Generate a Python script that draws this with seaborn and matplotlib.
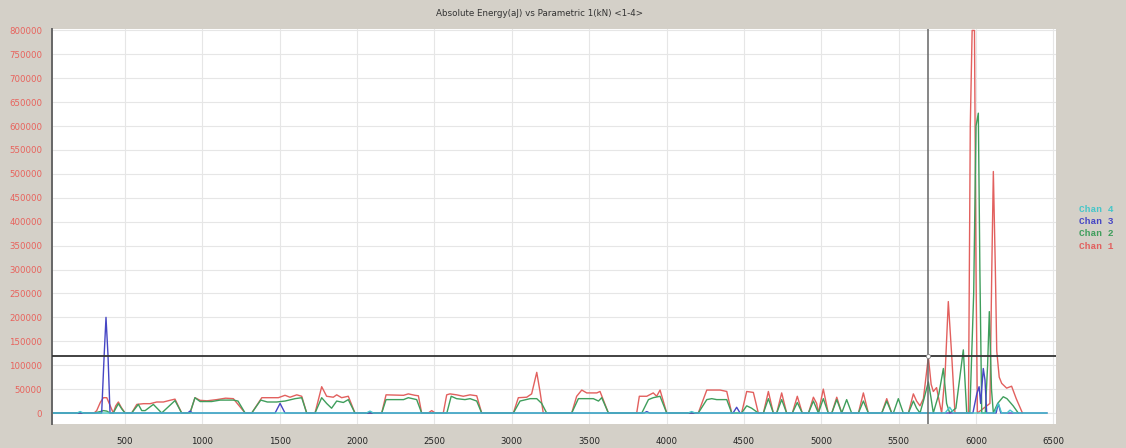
import numpy as np
import pandas as pd
import matplotlib
matplotlib.use("Agg")
import matplotlib.pyplot as plt
import seaborn as sns

# Absolute energy (aJ) against parametric load (kN), four AE channels
chan1_x = [35, 300, 317, 340, 360, 382, 395, 410, 424, 440, 457, 475, 500,
           543, 576, 620, 662, 705, 748, 790, 823, 866,
           920, 952, 985, 1030, 1093, 1150, 1200, 1276,
           1319, 1384, 1491, 1534, 1566, 1610, 1642, 1674,
           1728, 1771, 1803, 1846, 1868, 1900, 1943, 1986,
           2159, 2187, 2300, 2331, 2374, 2396, 2417,
           2460, 2482, 2505,
           2557, 2579, 2600, 2643, 2686, 2730, 2773, 2805,
           3010, 3042, 3096, 3128, 3161, 3182, 3203,
           3387, 3419, 3452, 3484, 3549, 3570, 3624,
           3807, 3824, 3872, 3914, 3936, 3958, 4001,
           4205, 4260, 4346, 4389, 4421,
           4485, 4518, 4561, 4593,
           4626, 4658, 4690, 4712, 4744, 4776, 4813, 4845, 4877,
           4917, 4949, 4970, 4981, 5013, 5045, 5068, 5100, 5132,
           5240, 5272, 5304, 5391, 5423, 5455,
           5563, 5595, 5616, 5638, 5660, 5692, 5710, 5724, 5745, 5765, 5778,
           5800, 5821, 5843, 5864, 5951, 5963, 5975, 5990, 6000, 6009,
           6090, 6102, 6112, 6125, 6134, 6150, 6166, 6198, 6230, 6260, 6300]
chan1_y = [0, 0, 5000, 22000, 32000, 32000, 22000, 10000, 0, 15000, 23000, 12000, 0,
           0, 18000, 19500, 19500, 23000, 23000, 26500, 29000, 0,
           0, 32000, 26500, 25500, 28000, 31000, 30000, 0,
           0, 32000, 32000, 37000, 33000, 38000, 35000, 0,
           0, 55000, 35000, 33000, 38000, 32000, 35000, 0,
           0, 38000, 37000, 40000, 37000, 36000, 0,
           0, 5000, 0,
           0, 38000, 40000, 38000, 35000, 38000, 36000, 0,
           0, 32000, 33000, 40000, 85000, 45000, 0,
           0, 35000, 48000, 42000, 42000, 45000, 0,
           0, 35000, 35000, 42000, 35000, 48000, 0,
           0, 48000, 48000, 45000, 0,
           0, 45000, 43000, 0,
           0, 45000, 0, 0, 42000, 0, 0, 35000, 0,
           0, 33000, 20000, 0, 50000, 0, 0, 33000, 0,
           0, 42000, 0, 0, 30000, 0,
           0, 40000, 25000, 15000, 30000, 117000, 60000, 45000, 53000, 20000, 0,
           80000, 233000, 120000, 0, 0, 600000, 800000, 800000, 300000, 0,
           20000, 300000, 505000, 300000, 130000, 75000, 62000, 52000, 56000, 30000, 0]

chan2_x = [35, 300, 340, 360, 382, 403, 424, 457, 480, 500,
           543, 586, 608, 630, 683, 737, 823, 866,
           920, 952, 985, 1060, 1115, 1200, 1230, 1276,
           1319, 1377, 1420, 1480, 1534, 1599, 1642, 1674,
           1728, 1771, 1803, 1835, 1868, 1911, 1943, 1986,
           2159, 2187, 2300, 2331, 2385, 2417,
           2580, 2608, 2643, 2697, 2730, 2773, 2805,
           3010, 3053, 3118, 3161, 3193, 3225,
           3387, 3430, 3527, 3560, 3581, 3624,
           3840, 3883, 3914, 3958, 4001,
           4205, 4260, 4292, 4324, 4389, 4421,
           4485, 4518, 4550, 4593,
           4626, 4658, 4690, 4712, 4744, 4776, 4813, 4845, 4877,
           4917, 4949, 4981, 5013, 5045, 5068, 5100, 5132, 5164, 5196,
           5240, 5272, 5304, 5391, 5423, 5455, 5466, 5498, 5530,
           5563, 5595, 5616, 5638, 5660, 5692, 5710, 5724, 5760, 5789, 5810, 5830,
           5870, 5918, 5940, 5960, 5985, 6000, 6015, 6025, 6037,
           6060, 6075, 6086, 6100, 6112, 6140, 6176, 6200, 6240, 6273]
chan2_y = [0, 0, 3000, 5000, 4000, 0, 0, 19500, 8000, 0,
           0, 18000, 5000, 5000, 18000, 0, 26000, 0,
           0, 32000, 24000, 24000, 27000, 27000, 25000, 0,
           0, 27000, 23000, 23000, 25000, 30000, 32000, 0,
           0, 32000, 20000, 10000, 25000, 22000, 28000, 0,
           0, 28000, 28000, 32000, 28000, 0,
           0, 35000, 30000, 28000, 30000, 25000, 0,
           0, 25000, 30000, 30000, 20000, 0,
           0, 30000, 30000, 25000, 32000, 0,
           0, 28000, 32000, 35000, 0,
           0, 28000, 30000, 28000, 28000, 0,
           0, 15000, 10000, 0,
           0, 30000, 0, 0, 28000, 0, 0, 22000, 0,
           0, 25000, 0, 30000, 0, 0, 28000, 0, 28000, 0,
           0, 25000, 0, 0, 25000, 0, 0, 30000, 0,
           0, 25000, 10000, 0, 25000, 65000, 30000, 0, 40000, 93000, 20000, 0,
           10000, 132000, 0, 0, 250000, 600000, 627000, 300000, 0,
           0, 100000, 212000, 50000, 0, 20000, 34000, 30000, 15000, 0]

chan3_x = [35, 349, 365, 377, 390, 403, 905, 920, 935, 1470, 1502, 1534,
           3855, 3872, 3890, 4430, 4453, 4475,
           5980, 6005, 6020, 6030, 6047, 6058, 6069, 6130, 6144, 6160, 6460]
chan3_y = [0, 0, 120000, 200000, 120000, 0, 0, 4000, 0, 0, 20000, 0,
           0, 3000, 0, 0, 12000, 0,
           0, 40000, 55000, 20000, 93000, 69000, 0, 0, 20000, 0, 0]

chan4_x = [35, 190, 210, 230, 2060, 2083, 2105, 4140, 4162, 4185,
           5800, 5830, 5855, 6120, 6144, 6165, 6200, 6220, 6245, 6460]
chan4_y = [0, 0, 3000, 0, 0, 4000, 0, 0, 3000, 0,
           0, 12000, 0, 0, 20000, 0, 0, 6000, 0, 0]

channels = ["Chan 1", "Chan 2", "Chan 3", "Chan 4"]
colors = {"Chan 1": "#e2605e", "Chan 2": "#3f9e5c",
          "Chan 3": "#4646c4", "Chan 4": "#46c6c8"}

x_ticks = [500, 1000, 1500, 2000, 2500, 3000, 3500, 4000, 4500, 5000, 5500, 6000, 6500]
y_ticks = list(range(0, 800001, 50000))
cursor_x = 5690
cursor_y = 120000

frames = []
for name, xs, ys in zip(channels,
                        [chan1_x, chan2_x, chan3_x, chan4_x],
                        [chan1_y, chan2_y, chan3_y, chan4_y]):
    frames.append(pd.DataFrame({"load": xs, "energy": ys, "channel": name,
                                "order": np.arange(len(xs))}))
df = pd.concat(frames, ignore_index=True)

sns.set_style("white")
plt.rcParams["font.family"] = ["DejaVu Sans"]

bg = "#d4d0c8"
fig = plt.figure(figsize=(11.26, 4.48), dpi=100, facecolor=bg)
ax = fig.add_axes([52 / 1126, 1 - 424 / 448, (1056 - 52) / 1126, (424 - 29) / 448])
ax.set_facecolor("white")

# spine placement first: moving a spine resets the tick objects
for side in ["top", "right"]:
    ax.spines[side].set_visible(False)
ax.spines["left"].set_color("#666666")
ax.spines["left"].set_linewidth(1.4)
ax.spines["bottom"].set_position(("outward", 2))
ax.spines["bottom"].set_visible(False)

sns.lineplot(data=df, x="load", y="energy", hue="channel", hue_order=channels,
             palette=colors, estimator=None, sort=False, legend=False,
             linewidth=1.0, ax=ax)

ax.set_xlim(28, 6517)
ax.set_ylim(-23000, 803000)
ax.set_xticks(x_ticks)
ax.set_yticks(y_ticks)
ax.set_xticklabels([str(v) for v in x_ticks], fontsize=6.2, color="#222222")
ax.set_yticklabels([str(v) for v in y_ticks], fontsize=6.2, color="#e8625c")
ax.set_xlabel("")
ax.set_ylabel("")
ax.grid(True, color="#e6e6e6", linewidth=0.8)
ax.set_axisbelow(True)

ax.tick_params(axis="y", direction="out", length=6, width=1.3, color="#555555", pad=1)
ax.tick_params(axis="x", direction="out", length=5, width=1.3, color="#555555", pad=2)

# cursor crosshair
ax.axhline(cursor_y, color="#333333", linewidth=1.3, zorder=5)
ax.axvline(cursor_x, color="#666666", linewidth=1.1, zorder=5)
ax.plot([cursor_x], [cursor_y], marker="o", markersize=3, markerfacecolor="white",
        markeredgecolor="#888888", markeredgewidth=0.6, zorder=6)

fig.text(539 / 1126, 1 - 13 / 448, "Absolute Energy(aJ) vs Parametric 1(kN) <1-4>",
         ha="center", va="center", fontsize=6.3, color="#333333")

legend_y = [209, 221, 233, 246]
for name, yy in zip(["Chan 4", "Chan 3", "Chan 2", "Chan 1"], legend_y):
    fig.text(1079 / 1126, 1 - yy / 448, name, ha="left", va="center",
             fontsize=6.8, family=["Liberation Mono", "DejaVu Sans Mono"],
             fontweight="bold", color=colors[name])

fig.savefig("out.png", dpi=100, facecolor=bg)
